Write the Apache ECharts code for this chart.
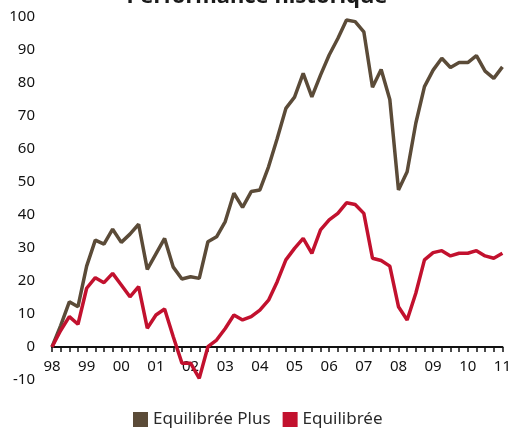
<!DOCTYPE html>
<html>
<head>
<meta charset="utf-8">
<script src="https://cdn.jsdelivr.net/npm/echarts@6/dist/echarts.min.js"></script>
<style>
  html, body { margin: 0; padding: 0; background: #ffffff; }
  #chart { width: 514px; height: 428px; }
</style>
</head>
<body>
<div id="chart"></div>
<script>
// Year tick labels (one every 4 quarters)
const yearLabels = ['98','99','00','01','02','03','04','05','06','07','08','09','10','11'];
const quarterNames = ['T1','T2','T3','T4'];

// Quarterly series values (98 T1 .. 11 T1)
const equilibreePlus = [
  0, 6.5, 13.7, 12.2, 24.5, 32.4, 31.2, 35.7, 31.7, 34.2,
  37.2, 23.5, 28.2, 32.9, 24.2, 20.6, 21.3, 20.8, 31.9, 33.4,
  38.0, 46.6, 42.3, 47.1, 47.6, 54.6, 63.2, 72.3, 75.7, 82.9,
  75.8, 82.4, 88.5, 93.5, 99.1, 98.6, 95.5, 78.7, 84.1, 75.0,
  47.6, 53.1, 67.8, 78.9, 83.9, 87.5, 84.7, 86.2, 86.2, 88.3,
  83.6, 81.4, 84.9
];
const equilibree = [
  0, 5.0, 9.2, 6.9, 17.8, 21.0, 19.5, 22.3, 18.8, 15.2,
  18.3, 5.7, 9.7, 11.5, 3.1, -4.9, -4.9, -9.5, 0.1, 2.1,
  5.6, 9.7, 8.2, 9.2, 11.2, 14.2, 19.8, 26.4, 29.9, 32.9,
  28.4, 35.5, 38.5, 40.5, 43.7, 43.2, 40.5, 26.9, 26.2, 24.5,
  12.2, 8.2, 16.3, 26.4, 28.6, 29.2, 27.6, 28.4, 28.4, 29.2,
  27.6, 26.9, 28.4
];

// Build quarter categories from the year labels
const categories = [];
yearLabels.forEach(function (y, i) {
  if (i < yearLabels.length - 1) {
    quarterNames.forEach(function (q) { categories.push(y + ' ' + q); });
  } else {
    categories.push(y + ' T1');
  }
});

const chart = echarts.init(document.getElementById('chart'), null, { renderer: 'canvas' });
const font = '"Noto Sans", "DejaVu Sans", sans-serif';

chart.setOption({
  animation: false,
  backgroundColor: '#ffffff',
  title: {
    text: 'Performance historique',
    left: 'center',
    top: -19,
    textStyle: { fontFamily: font, fontSize: 22, fontWeight: 'bold', color: '#1a1a1a' }
  },
  legend: {
    data: ['Equilibrée Plus', 'Equilibrée'],
    left: 128,
    top: 406,
    icon: 'rect',
    itemWidth: 15,
    itemHeight: 15,
    itemGap: 12,
    textStyle: { fontFamily: font, fontSize: 17, color: '#2a2a2a' }
  },
  grid: { left: 52, right: 9, top: 17, bottom: 48 },
  xAxis: {
    type: 'category',
    data: categories,
    boundaryGap: false,
    axisLine: { onZero: true, lineStyle: { color: '#111111', width: 2 } },
    axisTick: { interval: 0, length: 5, lineStyle: { color: '#111111', width: 1.5 } },
    axisLabel: {
      interval: 3,
      margin: -21,
      fontFamily: font,
      fontSize: 15,
      color: '#111111',
      formatter: function (v) { return v.split(' ')[0]; }
    },
    splitLine: { show: false }
  },
  yAxis: {
    type: 'value',
    min: -10,
    max: 100,
    interval: 10,
    axisLine: { show: false },
    axisTick: { show: false },
    splitLine: { show: false },
    axisLabel: { margin: 17, fontFamily: font, fontSize: 15, color: '#111111' }
  },
  series: [
    {
      name: 'Equilibrée Plus',
      type: 'line',
      data: equilibreePlus,
      symbol: 'none',
      lineStyle: { width: 3.5, color: '#5b4b38' },
      itemStyle: { color: '#5b4b38' }
    },
    {
      name: 'Equilibrée',
      type: 'line',
      data: equilibree,
      symbol: 'none',
      lineStyle: { width: 3.5, color: '#c2112e' },
      itemStyle: { color: '#c2112e' }
    }
  ]
});
</script>
</body>
</html>
